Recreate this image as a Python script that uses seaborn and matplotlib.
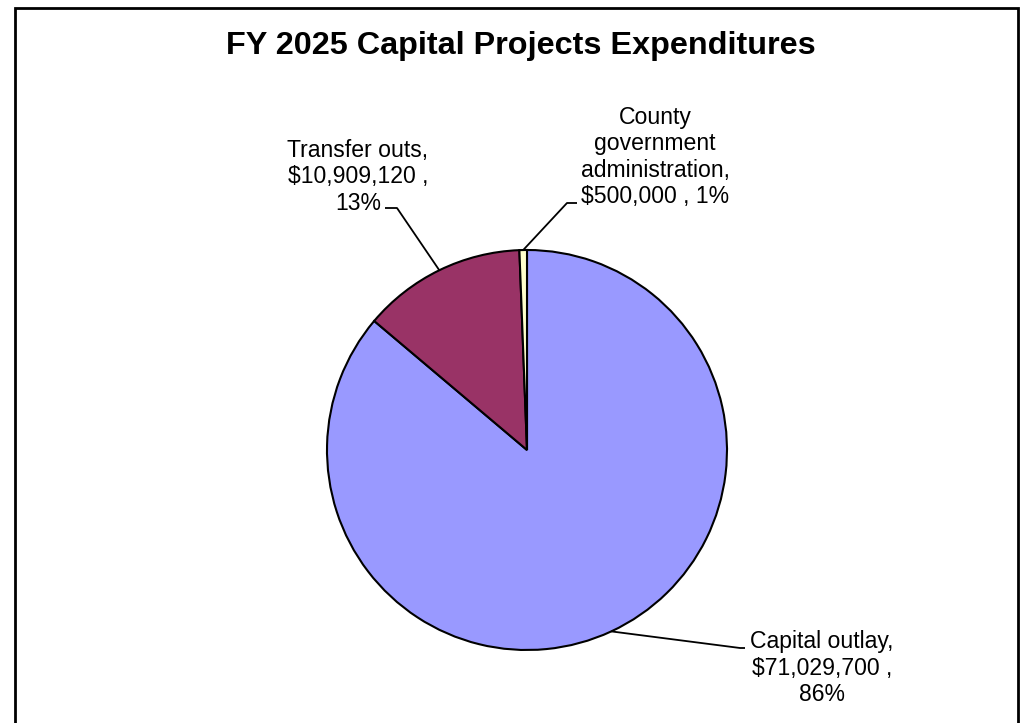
import numpy as np
import matplotlib
matplotlib.use("Agg")
import matplotlib.pyplot as plt
import matplotlib.patches as mpatches
import seaborn as sns

# Expenditure categories and amounts (USD)
categories = ["Capital outlay", "Transfer outs", "County government administration"]
amounts = [71029700, 10909120, 500000]
slice_colors = ["#9999FF", "#993366", "#FFFFCC"]
label_wrap = ["Capital outlay,", "Transfer outs,", "County\ngovernment\nadministration,"]
label_joiner = ["\n", "\n", "\n"]
pct_joiner = [" ,\n", " ,\n", " , "]

sns.set_theme(style="white")
plt.rcParams["font.family"] = ["Liberation Sans", "DejaVu Sans"]

W, H, DPI = 1025, 723, 100
fig = plt.figure(figsize=(W / DPI, H / DPI), dpi=DPI)
fig.patch.set_facecolor("white")

# Pie axes: centre at (527, 450) px, radius 200 px
cx, cy, R = 527, 450, 200
ax = fig.add_axes([(cx - R) / W, (H - cy - R) / H, 2 * R / W, 2 * R / H])
palette = sns.color_palette(slice_colors)
wedges, _ = ax.pie(amounts, colors=palette, startangle=90, counterclock=False,
                   radius=1.0,
                   wedgeprops=dict(edgecolor="black", linewidth=1.5))
ax.set_xlim(-1, 1)
ax.set_ylim(-1, 1)
ax.set_aspect("equal")
ax.axis("off")

total = sum(amounts)
labels = []
for name, joiner, pj, v in zip(label_wrap, label_joiner, pct_joiner, amounts):
    labels.append(f"{name}{joiner}${v:,.0f}{pj}{v / total * 100:.0f}%")

# Label layout: (text centre, elbow, stub end) in units of pie radius
layout = [
    dict(text=(1.475, -1.09), elbow=(1.065, -0.99), stub=(1.09, -0.99)),
    dict(text=(-0.845, 1.365), elbow=(-0.65, 1.21), stub=(-0.71, 1.21)),
    dict(text=(0.64, 1.465), elbow=(0.20, 1.235), stub=(0.25, 1.235)),
]

for w, lab, lay in zip(wedges, labels, layout):
    mid = np.deg2rad((w.theta1 + w.theta2) / 2)
    px, py = np.cos(mid), np.sin(mid)
    ex, ey = lay["elbow"]
    sx, sy = lay["stub"]
    ax.plot([px, ex, sx], [py, ey, sy], color="black", lw=1.3,
            clip_on=False, solid_capstyle="butt")
    ax.text(lay["text"][0], lay["text"][1], lab, ha="center", va="center",
            fontsize=16.6, linespacing=1.2, color="black", clip_on=False)

fig.text(521 / W, 1 - 46 / H, "FY 2025 Capital Projects Expenditures",
         ha="center", va="center", fontsize=23.3, fontweight="bold", color="black")

# Chart-area frame (bottom edge runs past the image)
frame = mpatches.Rectangle((15 / W, -0.05), (1018 - 15) / W, 1.05 - 8 / H,
                           transform=fig.transFigure, fill=False,
                           edgecolor="black", linewidth=2, clip_on=False)
fig.patches.append(frame)

fig.savefig("out.png", dpi=DPI, facecolor="white")
